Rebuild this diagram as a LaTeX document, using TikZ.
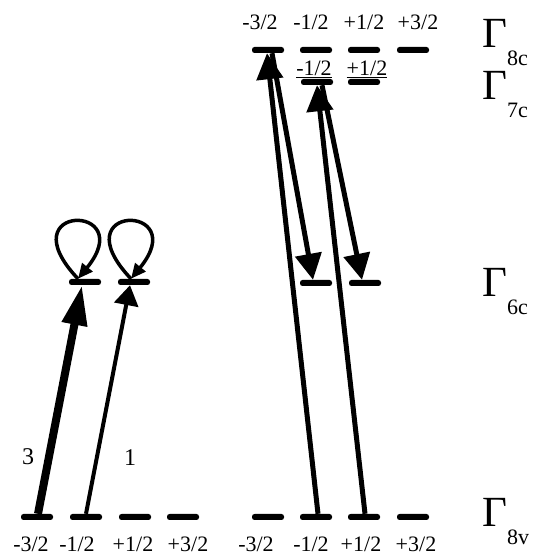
\documentclass[tikz,border=0pt]{standalone}
\usepackage{fontspec}
\setmainfont{Liberation Serif}
\usetikzlibrary{arrows.meta,positioning,calc}
\newcommand{\gamlbl}[1]{{\fontsize{43}{43}\selectfont Γ}\raisebox{-18pt}{\fontsize{22}{22}\selectfont #1}}

\begin{document}
\begin{tikzpicture}[x=1pt,y=1pt,
  lvl/.style={fill=black,rounded corners=2.5pt,minimum width=32pt,minimum height=6pt,inner sep=0pt},
  mjlbl/.style={font=\fontsize{22}{22}\selectfont,inner sep=0pt},
  numlbl/.style={font=\fontsize{24}{24}\selectfont,inner sep=0pt},
  gamnode/.style={anchor=base west,inner sep=0pt},
  transthick/.style={line width=8pt,-{Triangle[length=40pt,width=24pt]}},
  transthin/.style={line width=4pt,-{Triangle[length=20pt,width=24pt]}},
  trans/.style={line width=5pt,-{Triangle[length=26pt,width=26pt]}},
  selfloop/.style={line width=3.5pt,-{Triangle[length=15pt,width=13pt]}}
]
  \useasboundingbox (0,0) rectangle (533,559);
  % left: valence band levels
  \node[lvl] (lv1) at (37,42) {};
  \node[lvl] (lv2) at (86,42) {};
  \node[lvl] (lv3) at (135,42) {};
  \node[lvl] (lv4) at (183,42) {};
  \node[mjlbl] (lv1t) at (31,15) {-3/2};
  \node[mjlbl] (lv2t) at (77,15) {-1/2};
  \node[mjlbl] (lv3t) at (133,15) {+1/2};
  \node[mjlbl] (lv4t) at (188,15) {+3/2};
  % left: upper levels with loops
  \node[lvl] (l6a) at (85,277) {};
  \node[lvl] (l6b) at (134,277) {};
  % right: valence band levels
  \node[lvl] (rv1) at (268,42) {};
  \node[lvl] (rv2) at (316,42) {};
  \node[lvl] (rv3) at (364,42) {};
  \node[lvl] (rv4) at (413,42) {};
  \node[mjlbl] (rv1t) at (256,15) {-3/2};
  \node[mjlbl] (rv2t) at (311,15) {-1/2};
  \node[mjlbl] (rv3t) at (361,15) {+1/2};
  \node[mjlbl] (rv4t) at (416,15) {+3/2};
  % right: Gamma 6c
  \node[lvl] (c6a) at (316,276) {};
  \node[lvl] (c6b) at (365,276) {};
  % right: Gamma 7c
  \node[lvl] (c7a) at (317,477) {};
  \node[lvl] (c7b) at (364,477) {};
  \node[mjlbl] (c7at) at (314,490) {\underline{-1/2}};
  \node[mjlbl] (c7bt) at (367,490) {\underline{+1/2}};
  % right: Gamma 8c
  \node[lvl] (c8a) at (268,509) {};
  \node[lvl] (c8b) at (316,509) {};
  \node[lvl] (c8c) at (364,509) {};
  \node[lvl] (c8d) at (413,509) {};
  \node[mjlbl] (c8at) at (260,537) {-3/2};
  \node[mjlbl] (c8bt) at (311,537) {-1/2};
  \node[mjlbl] (c8ct) at (364,537) {+1/2};
  \node[mjlbl] (c8dt) at (418,537) {+3/2};
  % band names
  \node[gamnode] (g8c) at (482,511) {\gamlbl{8c}};
  \node[gamnode] (g7c) at (482,459) {\gamlbl{7c}};
  \node[gamnode] (g6c) at (482,262) {\gamlbl{6c}};
  \node[gamnode] (g8v) at (482,32) {\gamlbl{8v}};
  % left transitions
  \draw[transthick] ([xshift=1pt]lv1.north) -- ([xshift=-3pt]l6a.south);
  \draw[transthin] (lv2.north) -- ([xshift=-4pt]l6b.south);
  \node[numlbl] (n3) at (28,102) {3};
  \node[numlbl] (n1) at (130,101) {1};
  \draw[selfloop] ([xshift=-7pt]l6a.north) .. controls +(-72,76) and +(62,76) .. ([xshift=-7pt]l6a.north);
  \draw[selfloop] ([xshift=-3pt]l6b.north) .. controls +(-72,76) and +(62,76) .. ([xshift=-3pt]l6b.north);
  % right transitions
  \draw[trans] ([xshift=2pt]rv2.north) -- ([xshift=-1pt]c8a.south);
  \draw[trans] ([xshift=1pt]rv3.north) -- (c7a.south);
  \draw[trans] ([xshift=4pt]c8a.south) -- ([xshift=-3pt]c6a.north);
  \draw[trans] ([xshift=5pt]c7a.south) -- ([xshift=-3pt]c6b.north);
\end{tikzpicture}
\end{document}
